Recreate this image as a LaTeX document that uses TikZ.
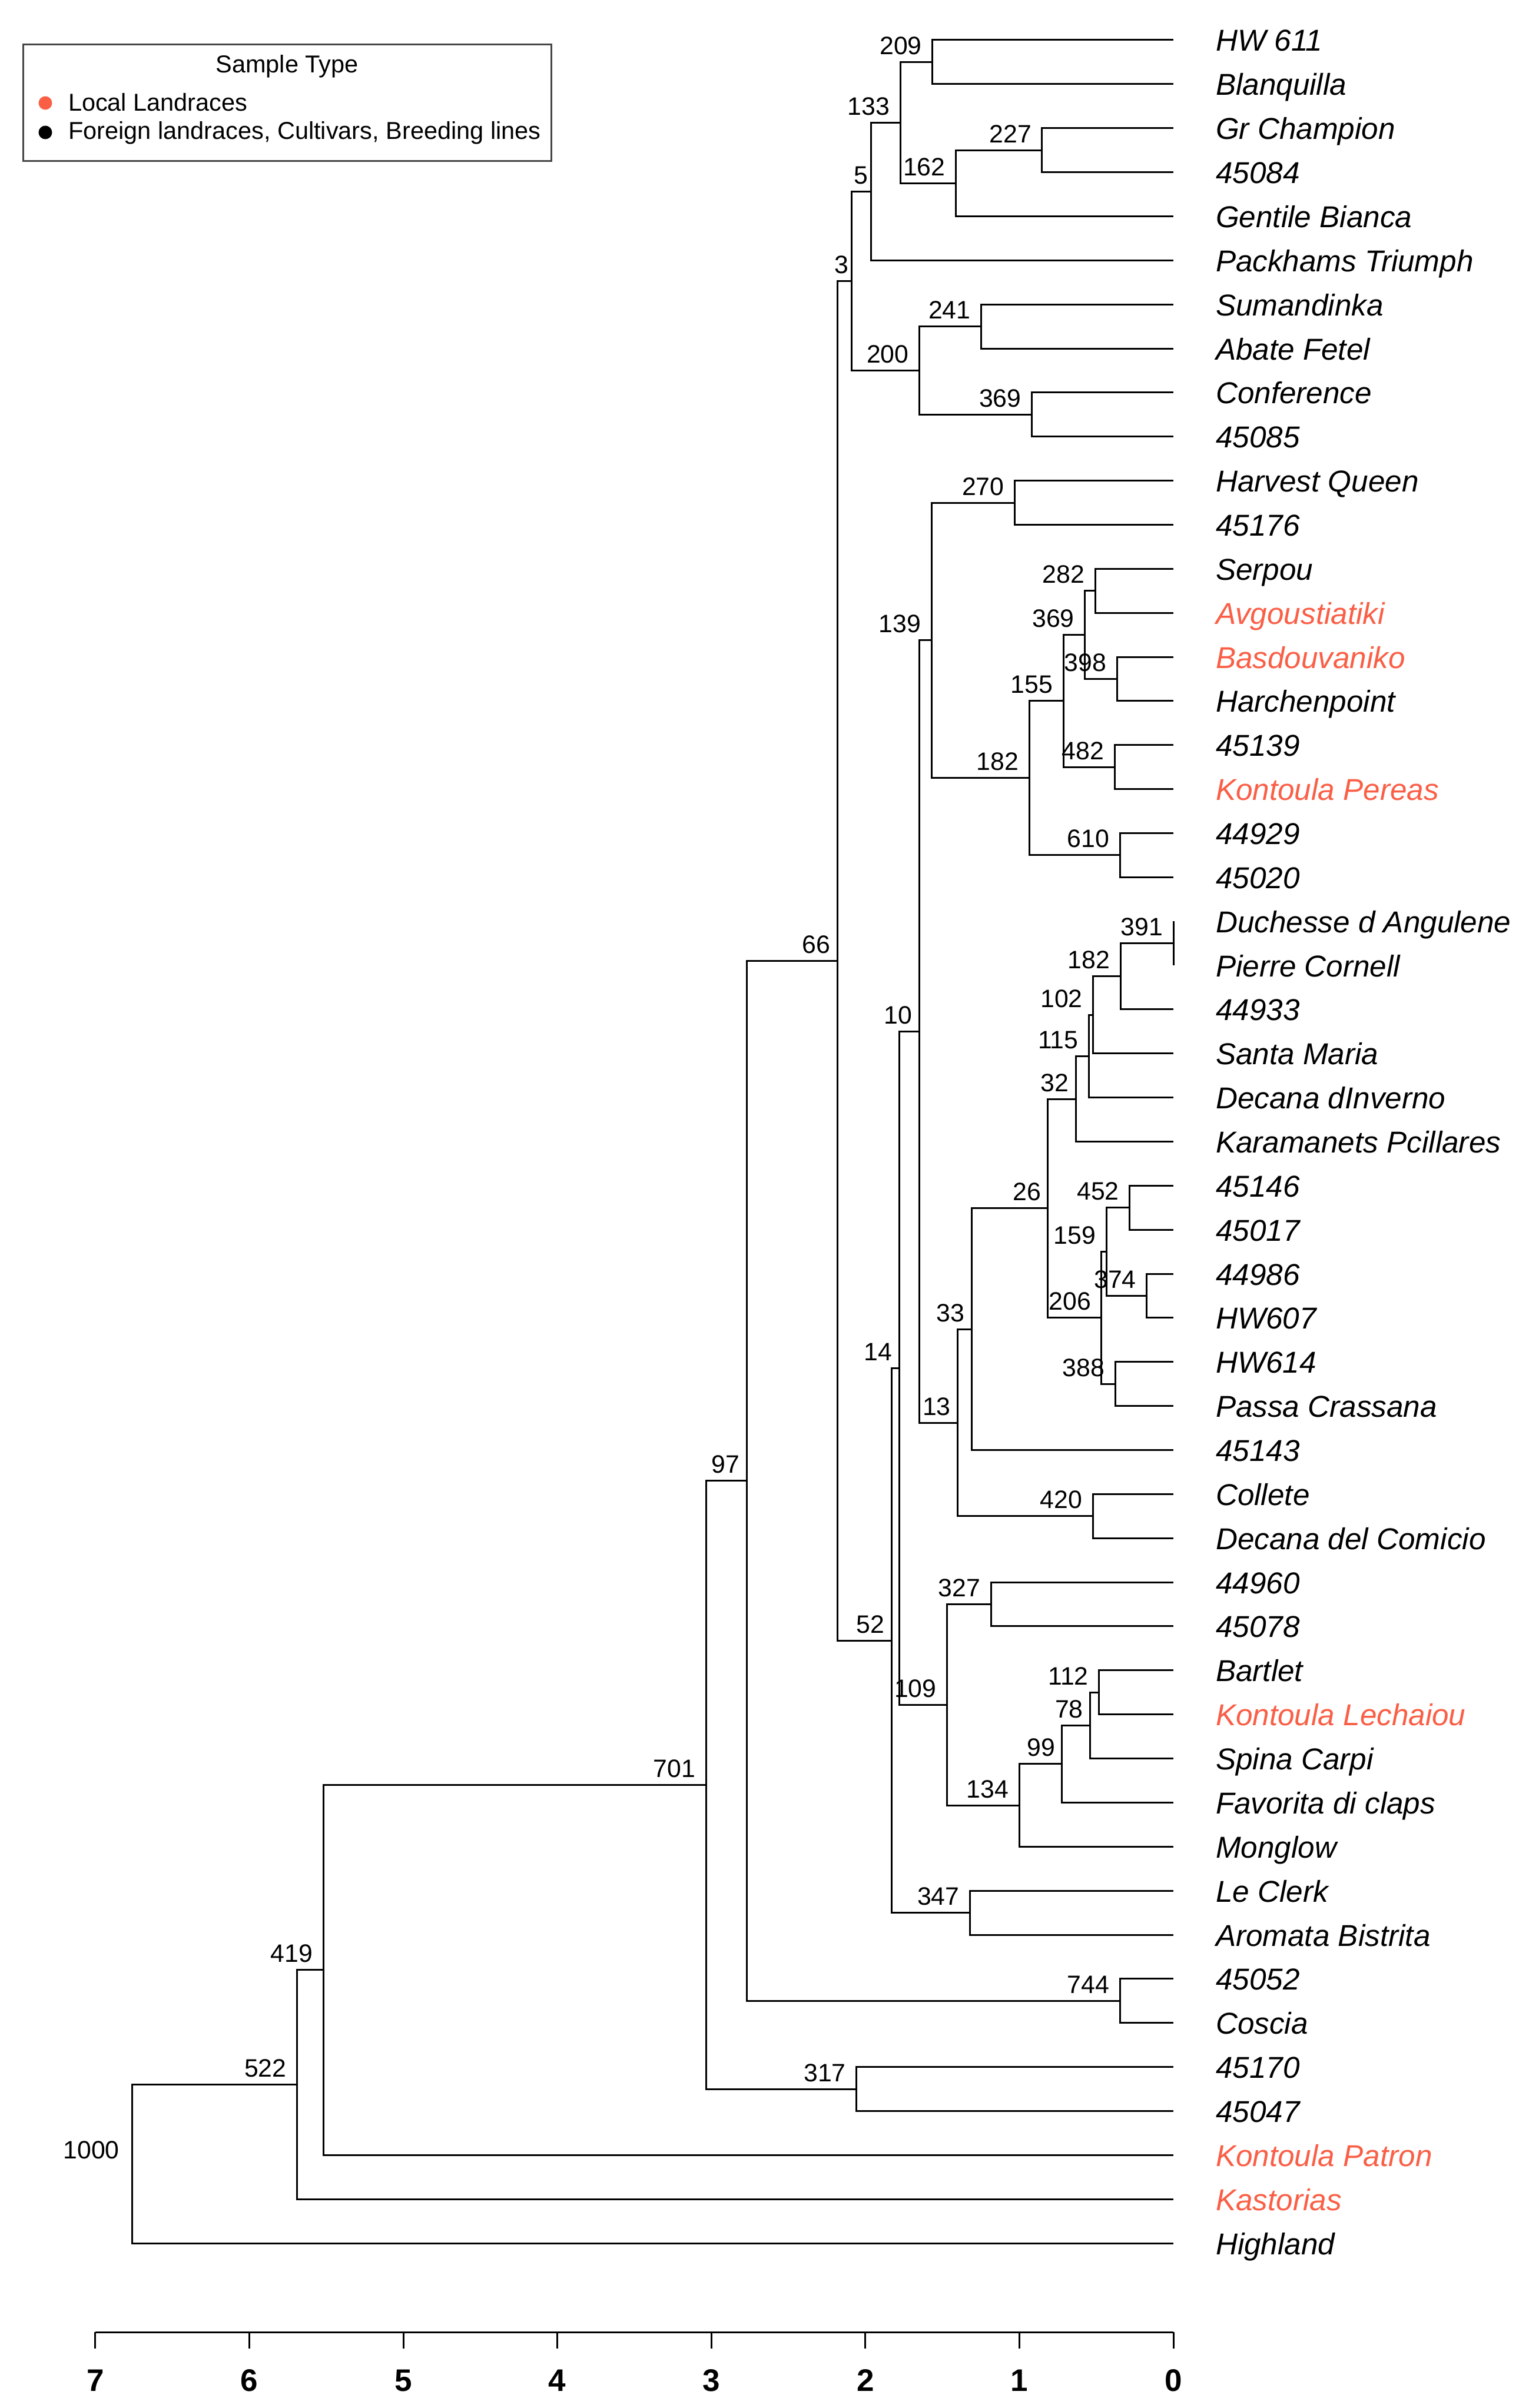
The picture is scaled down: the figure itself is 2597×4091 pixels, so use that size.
\documentclass[tikz,border=0pt]{standalone}
\usepackage{fontspec}
\setmainfont{Liberation Sans}
\definecolor{landrace}{RGB}{250,95,70}
\definecolor{boxgray}{RGB}{70,70,70}
\begin{document}
\begin{tikzpicture}[x=0.2pt,y=-0.2pt,
  br/.style={line width=0.6pt, black},
  axisline/.style={line width=0.6pt, black},
  leaf/.style={anchor=base west, inner sep=0pt, yshift=-3.8pt, font=\fontsize{10.25}{12}\selectfont\itshape},
  nl/.style={font=\fontsize{8.55}{10}\selectfont, anchor=base east, inner sep=0pt, yshift=2.6pt},
  nla/.style={nl, xshift=-0.8pt},
  nlb/.style={nl, xshift=-2.2pt},
  nlc/.style={nl, xshift=-3.4pt},
  nld/.style={font=\fontsize{8.55}{10}\selectfont, anchor=base east, inner sep=0pt, yshift=1.8pt, xshift=-4.1pt},
  ticklab/.style={anchor=base, inner sep=0pt, font=\fontsize{10.6}{12}\selectfont\bfseries},
  legtxt/.style={inner sep=0pt, font=\fontsize{8.3}{10}\selectfont},
  legbox/.style={draw=boxgray, line width=0.6pt, minimum width=179.4pt, minimum height=39.4pt, inner sep=0pt},
  legdot/.style={circle, inner sep=0pt, minimum size=4.6pt}
]
\fill[white] (0,0) rectangle (2597,4091);
\useasboundingbox (0,0) rectangle (2597,4091);

% leaves
\foreach \i/\nm/\col in {0/HW 611/black, 1/Blanquilla/black, 2/Gr Champion/black, 3/45084/black, 4/Gentile Bianca/black, 5/Packhams Triumph/black, 6/Sumandinka/black, 7/Abate Fetel/black, 8/Conference/black, 9/45085/black, 10/Harvest Queen/black, 11/45176/black, 12/Serpou/black, 13/Avgoustiatiki/landrace, 14/Basdouvaniko/landrace, 15/Harchenpoint/black, 16/45139/black, 17/Kontoula Pereas/landrace, 18/44929/black, 19/45020/black, 20/Duchesse d Angulene/black, 21/Pierre Cornell/black, 22/44933/black, 23/Santa Maria/black, 24/Decana dInverno/black, 25/Karamanets Pcillares/black, 26/45146/black, 27/45017/black, 28/44986/black, 29/HW607/black, 30/HW614/black, 31/Passa Crassana/black, 32/45143/black, 33/Collete/black, 34/Decana del Comicio/black, 35/44960/black, 36/45078/black, 37/Bartlet/black, 38/Kontoula Lechaiou/landrace, 39/Spina Carpi/black, 40/Favorita di claps/black, 41/Monglow/black, 42/Le Clerk/black, 43/Aromata Bistrita/black, 44/45052/black, 45/Coscia/black, 46/45170/black, 47/45047/black, 48/Kontoula Patron/landrace, 49/Kastorias/landrace, 50/Highland/black}{
  \coordinate (t\i) at (1993,{68+74.86*\i});
  \node[leaf, text=\col] (L\i) at (2064,{68+74.86*\i}) {\nm};
}

% internal nodes
\coordinate (n209) at (1583.7,105.43);
\coordinate (n227) at (1769.8,255.15);
\coordinate (n162) at (1623.4,311.3);
\coordinate (n133) at (1529,208.36);
\coordinate (n5) at (1479.5,325.33);
\coordinate (n241) at (1666.5,554.59);
\coordinate (n369a) at (1752.5,704.31);
\coordinate (n200) at (1561.4,629.45);
\coordinate (n3) at (1446.4,477.39);
\coordinate (n270) at (1723.5,854.03);
\coordinate (n282) at (1860,1003.75);
\coordinate (n398) at (1897.2,1153.47);
\coordinate (n369b) at (1842.6,1078.61);
\coordinate (n482) at (1893,1303.19);
\coordinate (n155) at (1806.2,1190.9);
\coordinate (n610) at (1902.2,1452.91);
\coordinate (n182a) at (1748.3,1321.9);
\coordinate (n139) at (1582,1087.97);
\coordinate (n391) at (1993,1602.63);
\coordinate (n182b) at (1903,1658.78);
\coordinate (n102) at (1856.7,1724.28);
\coordinate (n115) at (1849.3,1794.46);
\coordinate (n32) at (1827,1866.98);
\coordinate (n452) at (1918.7,2051.79);
\coordinate (n374) at (1947.7,2201.51);
\coordinate (n159) at (1879,2126.65);
\coordinate (n388) at (1894,2351.23);
\coordinate (n206) at (1870.8,2238.94);
\coordinate (n26) at (1779.8,2052.96);
\coordinate (n33) at (1650,2258.24);
\coordinate (n420) at (1856,2575.81);
\coordinate (n13) at (1626.7,2417.03);
\coordinate (n10) at (1561.4,1752.5);
\coordinate (n327) at (1683,2725.53);
\coordinate (n112) at (1866.6,2875.25);
\coordinate (n78) at (1851.7,2931.4);
\coordinate (n99) at (1803.8,2996.9);
\coordinate (n134) at (1731,3067.08);
\coordinate (n109) at (1608.5,2896.31);
\coordinate (n14) at (1527.5,2324.4);
\coordinate (n347) at (1647.4,3249.55);
\coordinate (n52) at (1514.3,2786.98);
\coordinate (n66) at (1422.4,1632.19);
\coordinate (n744) at (1902.2,3399.27);
\coordinate (n97) at (1268,2515.73);
\coordinate (n317) at (1454.7,3548.99);
\coordinate (n701) at (1199,3032.36);
\coordinate (n419) at (549,3346.82);
\coordinate (n522) at (504.5,3541.48);
\coordinate (n1000) at (224.1,3676.24);

% branches
\foreach \p/\c in {n209/t0, n209/t1, n227/t2, n227/t3, n162/n227, n162/t4, n133/n209, n133/n162, n5/n133, n5/t5,
  n241/t6, n241/t7, n369a/t8, n369a/t9, n200/n241, n200/n369a, n3/n5, n3/n200,
  n270/t10, n270/t11, n282/t12, n282/t13, n398/t14, n398/t15, n369b/n282, n369b/n398, n482/t16, n482/t17,
  n155/n369b, n155/n482, n610/t18, n610/t19, n182a/n155, n182a/n610, n139/n270, n139/n182a,
  n391/t20, n391/t21, n182b/n391, n182b/t22, n102/n182b, n102/t23, n115/n102, n115/t24, n32/n115, n32/t25,
  n452/t26, n452/t27, n374/t28, n374/t29, n159/n452, n159/n374, n388/t30, n388/t31, n206/n159, n206/n388,
  n26/n32, n26/n206, n33/n26, n33/t32, n420/t33, n420/t34, n13/n33, n13/n420, n10/n139, n10/n13,
  n327/t35, n327/t36, n112/t37, n112/t38, n78/n112, n78/t39, n99/n78, n99/t40, n134/n99, n134/t41,
  n109/n327, n109/n134, n14/n10, n14/n109, n347/t42, n347/t43, n52/n14, n52/n347, n66/n3, n66/n52,
  n744/t44, n744/t45, n97/n66, n97/n744, n317/t46, n317/t47, n701/n97, n701/n317,
  n419/n701, n419/t48, n522/n419, n522/t49, n1000/n522, n1000/t50}{
  \draw[br] (\p) |- (\c);
}

% node labels
\foreach \n/\t in {n209/209, n227/227, n162/162, n133/133, n241/241, n369a/369, n200/200, n270/270, n282/282,
  n398/398, n369b/369, n482/482, n155/155, n610/610, n182a/182, n139/139, n391/391, n182b/182, n102/102,
  n115/115, n452/452, n374/374, n159/159, n388/388, n206/206, n420/420, n327/327, n112/112, n134/134,
  n109/109, n347/347, n744/744, n317/317, n701/701, n419/419, n522/522}{
  \node[nlc] (lab\n) at (\n) {\t};
}
\foreach \n/\t in {n66/66, n32/32, n26/26, n33/33, n13/13, n10/10, n78/78, n99/99, n14/14, n52/52, n97/97}{
  \node[nlb] (lab\n) at (\n) {\t};
}
\foreach \n/\t in {n3/3, n5/5}{
  \node[nla] (lab\n) at (\n) {\t};
}
\node[nld] (labn1000) at (n1000) {1000};

% axis
\coordinate (ax0) at (1993,3962);
\coordinate (ax7) at (161.8,3962);
\draw[axisline] (ax7) -- (ax0);
\foreach \k in {0,...,7}{
  \coordinate (tk\k) at ({1993-261.6*\k},3962);
  \draw[axisline] (tk\k) -- ++(0,28);
  \node[ticklab] (tl\k) at ({1993-261.6*\k},4062) {\k};
}

% legend
\node[legbox] (legend) at (487.9,174.5) {};
\node[legtxt, anchor=base] (legtitle) at (487.5,124) {Sample Type};
\node[legdot, fill=landrace] (dotL) at (77,175) {};
\node[legdot, fill=black] (dotF) at (77,225) {};
\node[legtxt, anchor=base west] (legL) at (115,189) {Local Landraces};
\node[legtxt, anchor=base west] (legF) at (115,237) {Foreign landraces, Cultivars, Breeding lines};
\end{tikzpicture}
\end{document}
